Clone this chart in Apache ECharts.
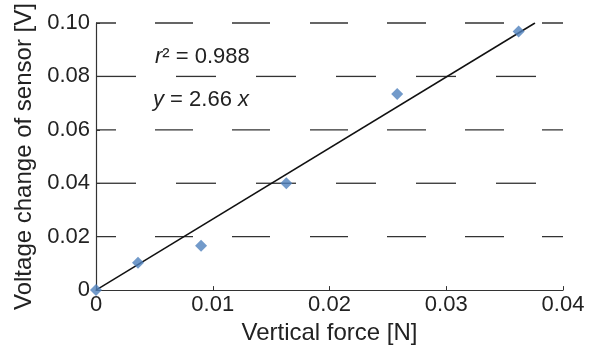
<!DOCTYPE html>
<html>
<head>
<meta charset="utf-8">
<script src="https://cdn.jsdelivr.net/npm/echarts@6/dist/echarts.min.js"></script>
<style>
  html, body { margin: 0; padding: 0; background: #fff; }
  #chart { width: 589px; height: 350px; }
</style>
</head>
<body>
<div id="chart"></div>
<script>
// measured points (force [N], voltage change [V])
const forceN = [0, 0.0036, 0.0090, 0.0163, 0.0258, 0.0362];
const voltageV = [0, 0.0102, 0.0166, 0.0400, 0.0734, 0.0968];
// regression line y = 2.66 x, drawn between its two end points
const fitLine = [[0, 0], [0.0376, 0.1]];
const gridRows = [0.02, 0.04, 0.06, 0.08, 0.10];
const xMin = 0, xMax = 0.04;

const chart = echarts.init(document.getElementById('chart'));

const font = 'Liberation Sans, Arial, sans-serif';
const tickTxt = { fontFamily: font, fontSize: 22, color: '#222' };
const nameTxt = { fontFamily: font, fontSize: 24, color: '#222' };

// the dashed rows alternate in phase, as in the original figure
const dashA = [20, 39, 38, 39, 38, 40, 38, 39, 39, 39, 39, 38, 21, 10];
const dashB = [40, 40];
const gridSeries = gridRows.map(v => ({
  type: 'line',
  data: [[xMin, v], [xMax, v]],
  showSymbol: false,
  silent: true,
  clip: false,
  z: 1,
  lineStyle: {
    color: '#333', width: 1.3,
    type: Math.round(v / 0.02) % 2 === 0 ? dashB : dashA
  }
}));

const richItalic = { i: { fontStyle: 'italic', fontSize: 22, fontFamily: font, color: '#222' } };

chart.setOption({
  animation: false,
  grid: { left: 96, right: 26, top: 23, bottom: 54 },
  xAxis: {
    type: 'value',
    min: xMin, max: xMax, interval: 0.01,
    name: 'Vertical force [N]',
    nameLocation: 'middle',
    nameGap: 26,
    nameTextStyle: nameTxt,
    axisLine: { lineStyle: { color: '#333', width: 1.2 } },
    axisTick: { inside: true, length: 4, lineStyle: { color: '#333' } },
    axisLabel: { ...tickTxt, margin: 4, formatter: v => v === 0 ? '0' : v.toFixed(2) },
    splitLine: { show: false }
  },
  yAxis: {
    type: 'value',
    min: 0, max: 0.1, interval: 0.02,
    name: 'Voltage change of sensor [V]',
    nameLocation: 'middle',
    nameGap: 58,
    nameTextStyle: nameTxt,
    axisLine: { show: true, lineStyle: { color: '#333', width: 1.2 } },
    axisTick: { show: true, inside: true, length: 4, lineStyle: { color: '#333' } },
    axisLabel: { ...tickTxt, margin: 6, formatter: v => v === 0 ? '0' : v.toFixed(2) },
    splitLine: { show: false }
  },
  graphic: [
    {
      type: 'text', left: 155, top: 46,
      style: { text: '{i|r}² = 0.988', font: '22px Liberation Sans', fill: '#222', rich: richItalic }
    },
    {
      type: 'text', left: 153, top: 89,
      style: { text: '{i|y} = 2.66 {i|x}', font: '22px Liberation Sans', fill: '#222', rich: richItalic }
    }
  ],
  series: [
    ...gridSeries,
    {
      type: 'line',
      data: fitLine,
      showSymbol: false,
      lineStyle: { color: '#111', width: 1.5 },
      z: 3
    },
    {
      type: 'scatter',
      data: forceN.map((x, i) => [x, voltageV[i]]),
      symbol: 'diamond',
      symbolSize: 12,
      itemStyle: { color: '#4f81bd' },
      z: 4
    }
  ]
});
</script>
</body>
</html>
